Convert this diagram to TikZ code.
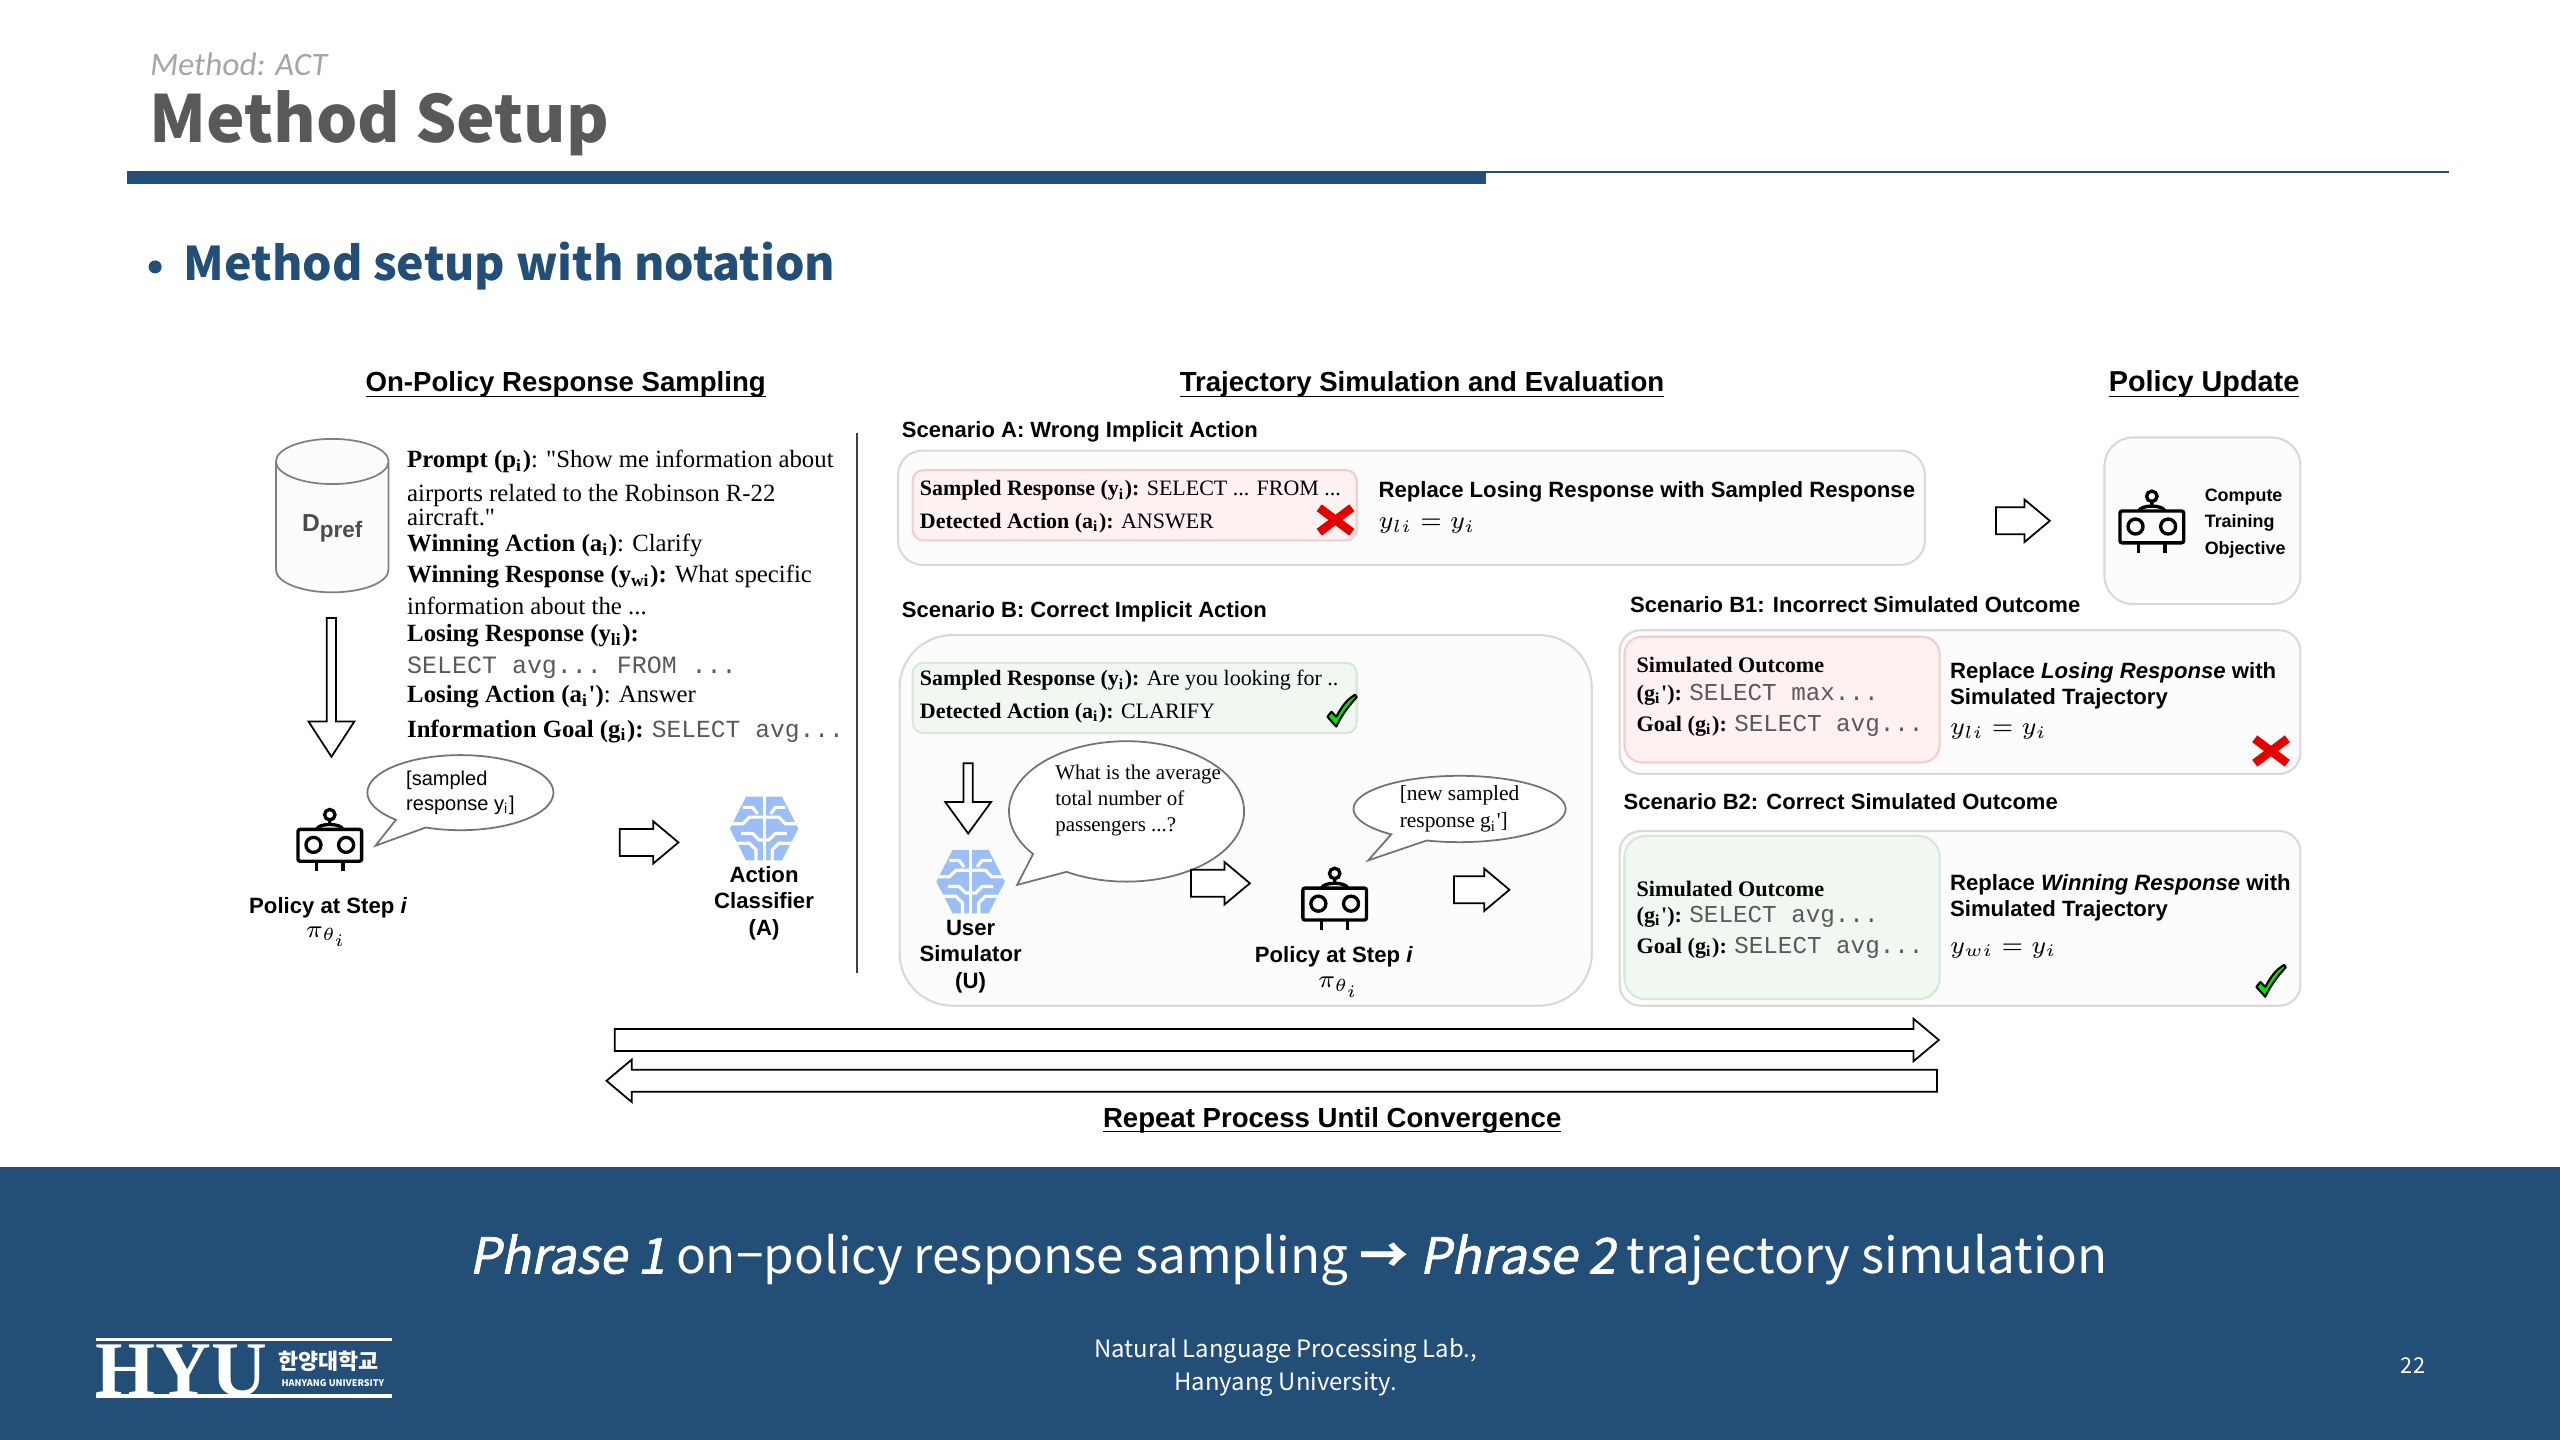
\documentclass[tikz,border=0pt]{standalone}
\usepackage{amsmath}
\usepackage{amssymb}
\usepackage{fontspec}
\usepackage{tikz}
\usetikzlibrary{shapes.geometric,shapes.arrows,shapes.callouts}
\setmainfont{Liberation Serif}[Ligatures=TeXOff]
\setsansfont{Liberation Sans}
\setmonofont{Liberation Mono}
\newfontfamily\krfont{Noto Sans CJK KR}
\newfontfamily\krslant[FakeSlant=0.2,FakeBold=1.5]{Noto Sans CJK KR}
\newfontfamily\handfont[AutoFakeSlant=0.12]{Carlito}
\newcommand{\un}{0.016327cm}
\definecolor{navy}{HTML}{224E78}
\definecolor{redfill}{HTML}{FDF1F1}
\definecolor{redline}{HTML}{F6CDCD}
\definecolor{greenfill}{HTML}{F1F7F1}
\definecolor{greenline}{HTML}{D7E8D6}
\definecolor{brainblue}{HTML}{9CBEF6}
\tikzset{
    txt/.style={anchor=base west,inner sep=0pt},
    ctr/.style={anchor=base,inner sep=0pt},
    serif/.style={font=\rmfamily\fontsize{#1}{#1}\selectfont},
    sansb/.style={font=\sffamily\bfseries\fontsize{#1}{#1}\selectfont},
    panel/.style={draw=black!15,fill=black!1,line width=0.6pt},
    redbox/.style={draw=redline,fill=redfill,line width=0.6pt},
    greenbox/.style={draw=greenline,fill=greenfill,line width=0.6pt},
    blockarrow/.style={draw,single arrow,anchor=tail,inner xsep=0pt,inner ysep=#1*\un,line width=0.5pt,fill=white,
        single arrow tip angle=80,single arrow head extend=1pt},
    bubble/.style={draw=black!55,fill=white,ellipse callout,inner sep=0pt,line width=0.5pt,
        callout pointer arc=22},
    robot/.pic={
        \draw[line width=0.95pt,rounded corners=0.6pt] (-19.5,-9) rectangle (19.5,10.5);
        \draw[line width=0.95pt] (-10,0.5) circle[radius=4.6] (10,0.5) circle[radius=4.6];
        \draw[line width=0.95pt] (-8,-9) .. controls (-7,-13) and (7,-13) .. (8,-9);
        \draw[line width=0.95pt] (0,-12) -- (0,-15) (0,-18) circle[radius=3.2];
        \draw[line width=0.95pt] (-8,10.5) -- (-8,16.5) (8,10.5) -- (8,16.5);
    },
    brain/.pic={
        \fill[brainblue] (-21,0) -- (-11,-19.5) -- (11,-19.5) -- (21,0) -- (11,19.5) -- (-11,19.5) -- cycle;
        \draw[white,line width=0.9pt] (0,-20) -- (0,20);
        \foreach \s in {1,-1}{
            \draw[white,line width=0.9pt] (\s*13,-13) -- (\s*7,-13) -- (\s*4,-9)
                (\s*22,-3) -- (\s*13,-3) -- (\s*9,-7) -- (0,-7)
                (\s*14,3) -- (\s*7,3) -- (\s*3,7) -- (0,7)
                (\s*17,9) -- (\s*9,9) -- (\s*5,13) -- (\s*5,20);
        }
    },
    crossmark/.pic={
        \draw[red!90!black,line width=2.4pt] (-10,-7.5) -- (10,7.5) (-10,7.5) -- (10,-7.5);
    },
    tickmark/.pic={
        \draw[fill=green!90!black,line width=0.6pt,line join=round] (-9,3.5) -- (-6.5,0.5) -- (-3.5,3.5)
            .. controls (0,-3) and (3,-7) .. (8,-10) -- (9,-8.5) .. controls (3,-2) and (-1,4) .. (-3.5,9.5) -- cycle;
    },
}
\begin{document}
\begin{tikzpicture}[x=\un,y=-\un]
    \useasboundingbox (0,0) rectangle (1568,882);

    % Slide head
    \node[txt,text=black!35,font=\handfont\itshape\fontsize{9.3}{10}\selectfont] (crumb) at (91,46) {Method: ACT};
    \node[txt,text=black!65,font=\krfont\bfseries\fontsize{18.5}{19}\selectfont] (title) at (91,87) {Method Setup};
    \fill[navy] (78,105) rectangle (910,113);
    \draw[navy,line width=0.6pt] (910,105.3) -- (1500,105.3);
    \fill[navy] (95,163.5) circle[radius=4];
    \node[txt,text=navy,font=\krfont\bfseries\fontsize{13.2}{14}\selectfont] (subtitle) at (112,172) {Method setup with notation};

    % Column heads
    \node[ctr,sansb=7.85] (headpolicy) at (346.5,240) {\underline{\smash{On-Policy Response Sampling}}};
    \node[ctr,sansb=7.85] (headtraj) at (871,240) {\underline{\smash{Trajectory Simulation and Evaluation}}};
    \node[ctr,sansb=8.2] (headupdate) at (1350,240) {\underline{\smash{Policy Update}}};
    \draw[black!75,line width=0.6pt] (525,265) -- (525,596);

    % On-policy sampling
    \node[cylinder,shape border rotate=90,aspect=0.75,draw=black!50,cylinder uses custom fill,
        cylinder body fill=black!1,cylinder end fill=black!1,minimum height=94*\un,minimum width=69*\un,
        inner sep=0pt,line width=0.5pt,text=black!70,font=\sffamily\bfseries\fontsize{7}{7}\selectfont] (dpref) at (203.5,323)
        {\raisebox{-5.5pt}{D{\fontsize{6.4}{7}\selectfont\raisebox{-1.6pt}{pref}}}};
    \node[txt,serif=7.05] (prompta) at (249,286.5) {\textbf{Prompt (p\textsubscript{i})}: "Show me information about};
    \node[txt,serif=7.05] (promptb) at (249,307) {airports related to the Robinson R-22};
    \node[txt,serif=7.05] (promptc) at (249,322) {aircraft."};
    \node[txt,serif=7.05] (winact) at (249,338) {\textbf{Winning Action (a\textsubscript{i})}: Clarify};
    \node[txt,serif=7.05] (winresa) at (249,357) {\textbf{Winning Response (y\textsubscript{wi}):} What specific};
    \node[txt,serif=7.05] (winresb) at (249,376.5) {information about the ...};
    \node[txt,serif=7.05] (loseresa) at (249,393) {\textbf{Losing Response (y\textsubscript{li}):}};
    \node[txt,text=black!65,font=\ttfamily\fontsize{7.1}{7}\selectfont] (loseresb) at (249,412.5) {SELECT avg... FROM ...};
    \node[txt,serif=7.05] (loseact) at (249,430.5) {\textbf{Losing Action (a\textsubscript{i}')}: Answer};
    \node[txt,serif=7.05] (infogoal) at (249,451.5) {\textbf{Information Goal (g\textsubscript{i}):} {\color{black!65}\ttfamily\fontsize{7}{7}\selectfont SELECT avg...}};

    \node[blockarrow=7,shape border rotate=270,single arrow tip angle=66,minimum height=85*\un,minimum width=28*\un] (downa) at (203,378) {};
    \pic at (202,517) {robot};
    \node[bubble,minimum width=114*\un,minimum height=46*\un,align=left,font=\sffamily\fontsize{5.7}{7}\selectfont,
        callout absolute pointer={(230,518)}] (bubblea) at (282,485.5) {[sampled\\response y\textsubscript{i}]};
    \node[ctr,sansb=6.3] (stepa) at (201,559.5) {Policy at Step \textit{i}};
    \node[ctr,font=\fontsize{6.8}{7}\selectfont] (pia) at (200,574) {$\pi_{\theta_i}$};
    \node[blockarrow=3.25,minimum height=36*\un,minimum width=26*\un] (arrowa) at (379,516) {};
    \pic at (468,507.5) {brain};
    \node[ctr,align=center,font=\sffamily\bfseries\fontsize{6.3}{7.6}\selectfont] (classifier) at (468,573) {Action\\Classifier\\(A)};

    % Scenario A
    \node[txt,sansb=6.27] (labela) at (552,268) {Scenario A: Wrong Implicit Action};
    \draw[panel,rounded corners=7pt] (550,276) rectangle (1179,346);
    \draw[redbox,rounded corners=3pt] (559,288) rectangle (831,331);
    \node[txt,serif=6.25] (samplea) at (563,303.5) {\textbf{Sampled Response (y\textsubscript{i}):} SELECT ... FROM ...};
    \node[txt,serif=6.25] (actiona) at (563,323.5) {\textbf{Detected Action (a\textsubscript{i}):} ANSWER};
    \pic at (818,318.5) {crossmark};
    \node[txt,sansb=6.3] (replacea) at (844,305) {Replace Losing Response with Sampled Response};
    \node[txt,font=\fontsize{7.2}{8}\selectfont] (eqa) at (844,324) {$y_{\scriptscriptstyle li}=y_{\scriptscriptstyle i}$};
    \node[blockarrow=3.25,minimum height=33*\un,minimum width=26*\un] (arrowupdate) at (1222,319) {};

    % Policy update
    \draw[panel,rounded corners=8pt] (1289,268) rectangle (1409,370);
    \pic at (1318,322) {robot};
    \node[txt,align=left,font=\sffamily\bfseries\fontsize{5.1}{7.5}\selectfont] (objective) at (1350,339.5) {Compute\\Training\\Objective};

    % Scenario B
    \node[txt,sansb=6.27] (labelb) at (552,378) {Scenario B: Correct Implicit Action};
    \draw[panel,rounded corners=15pt] (551,389) rectangle (975,616);
    \draw[greenbox,rounded corners=3pt] (559,406) rectangle (831,449);
    \node[txt,serif=6.25] (sampleb) at (563,420) {\textbf{Sampled Response (y\textsubscript{i}):} Are you looking for ..};
    \node[txt,serif=6.25] (actionb) at (563,440) {\textbf{Detected Action (a\textsubscript{i}):} CLARIFY};
    \pic at (822,435.5) {tickmark};
    \node[blockarrow=7,shape border rotate=270,single arrow tip angle=72,minimum height=43*\un,minimum width=28*\un] (downb) at (593,467) {};
    \pic at (594.5,540) {brain};
    \node[ctr,align=center,font=\sffamily\bfseries\fontsize{6.3}{7.6}\selectfont] (simulator) at (594.5,605.5) {User\\Simulator\\(U)};
    \node[bubble,minimum width=144*\un,minimum height=86*\un,callout absolute pointer={(623,542)}] (bubbleb) at (690,497) {};
    \node[txt,align=left,font=\rmfamily\fontsize{5.95}{7.3}\selectfont] (bubblebtext) at (646,509) {What is the average\\total number of\\passengers ...?};
    \node[blockarrow=3.25,minimum height=36*\un,minimum width=26*\un] (arrowb) at (729,541) {};
    \pic at (817.5,553) {robot};
    \node[ctr,sansb=6.3] (stepb) at (817,589.5) {Policy at Step \textit{i}};
    \node[ctr,font=\fontsize{6.8}{7}\selectfont] (pib) at (820,605) {$\pi_{\theta_i}$};
    \node[bubble,minimum width=130*\un,minimum height=40*\un,align=left,font=\rmfamily\fontsize{6.1}{7.8}\selectfont,
        callout absolute pointer={(838,527)}] (bubblec) at (894,495.5) {[new sampled\\response g\textsubscript{i}']};
    \node[blockarrow=3.25,minimum height=34*\un,minimum width=26*\un] (arrowc) at (890,545) {};

    % Scenario B1
    \node[txt,sansb=6.27] (labelbone) at (998,375) {Scenario B1: Incorrect Simulated Outcome};
    \draw[panel,rounded corners=6pt] (992,386) rectangle (1409,474);
    \draw[redbox,rounded corners=5pt] (995,390) rectangle (1188,467);
    \node[txt,serif=6.3] (simone) at (1002,412) {\textbf{Simulated Outcome}};
    \node[txt,serif=6.3] (gone) at (1002,429) {\textbf{(g\textsubscript{i}'):} {\color{black!65}\ttfamily\fontsize{6.9}{7}\selectfont SELECT max...}};
    \node[txt,serif=6.3] (goalone) at (1002,448) {\textbf{Goal (g\textsubscript{i}):} {\color{black!65}\ttfamily\fontsize{6.9}{7}\selectfont SELECT avg...}};
    \node[txt,sansb=6.3] (replaceb) at (1194,415.5) {Replace \textit{Losing Response} with};
    \node[txt,sansb=6.3] (trajb) at (1194,431.5) {Simulated Trajectory};
    \node[txt,font=\fontsize{7.2}{8}\selectfont] (eqb) at (1194,450) {$y_{\scriptscriptstyle li}=y_{\scriptscriptstyle i}$};
    \pic at (1391,460) {crossmark};

    % Scenario B2
    \node[txt,sansb=6.27] (labelbtwo) at (994,496) {Scenario B2: Correct Simulated Outcome};
    \draw[panel,rounded corners=6pt] (992,509) rectangle (1409,616);
    \draw[greenbox,rounded corners=6pt] (995,512) rectangle (1188,612);
    \node[txt,serif=6.3] (simtwo) at (1002,549) {\textbf{Simulated Outcome}};
    \node[txt,serif=6.3] (gtwo) at (1002,565) {\textbf{(g\textsubscript{i}'):} {\color{black!65}\ttfamily\fontsize{6.9}{7}\selectfont SELECT avg...}};
    \node[txt,serif=6.3] (goaltwo) at (1002,584) {\textbf{Goal (g\textsubscript{i}):} {\color{black!65}\ttfamily\fontsize{6.9}{7}\selectfont SELECT avg...}};
    \node[txt,sansb=6.3] (replacec) at (1194,545.5) {Replace \textit{Winning Response} with};
    \node[txt,sansb=6.3] (trajc) at (1194,561.5) {Simulated Trajectory};
    \node[txt,font=\fontsize{7.2}{8}\selectfont] (eqc) at (1194,584) {$y_{\scriptscriptstyle wi}=y_{\scriptscriptstyle i}$};
    \pic at (1391,601) {tickmark};

    % Long arrows
    \node[blockarrow=1.8,minimum height=811*\un,minimum width=26*\un] (loopright) at (376,637) {};
    \node[blockarrow=1.8,shape border rotate=180,minimum height=815*\un,minimum width=26*\un] (loopleft) at (1187,662) {};
    \node[ctr,sansb=7.85] (repeatlabel) at (816,690.5) {\underline{\smash{Repeat Process Until Convergence}}};

    % Bottom band
    \fill[navy] (0,715) rectangle (1568,882);
    \node[ctr,text=white,font=\krfont\fontsize{14.05}{15}\selectfont] (phrase) at (789,780)
        {{\krslant Phrase 1} on−policy response sampling \textbf{→} {\krslant Phrase 2} trajectory simulation};
    \node[ctr,text=white,align=center,font=\krfont\fontsize{6.8}{9.3}\selectfont] (lab) at (787.5,851.5) {Natural Language Processing Lab.,\\Hanyang University.};
    \node[ctr,text=white,font=\krfont\fontsize{6.2}{7}\selectfont] (pagenum) at (1478,841.5) {22};

    % Logo
    \draw[white,line width=0.9pt] (59,820.5) -- (240,820.5) (59,855) -- (240,855);
    \node[txt,text=white,font=\rmfamily\bfseries\fontsize{22}{22}\selectfont] (hyu) at (58,854.5) {HYU};
    \node[txt,text=white,font=\krfont\bfseries\fontsize{6.2}{7}\selectfont] (hyukr) at (170,839) {한양대학교};
    \node[txt,text=white,font=\krfont\bfseries\fontsize{2.6}{3}\selectfont] (hyuen) at (172,849) {HANYANG UNIVERSITY};
\end{tikzpicture}
\end{document}
